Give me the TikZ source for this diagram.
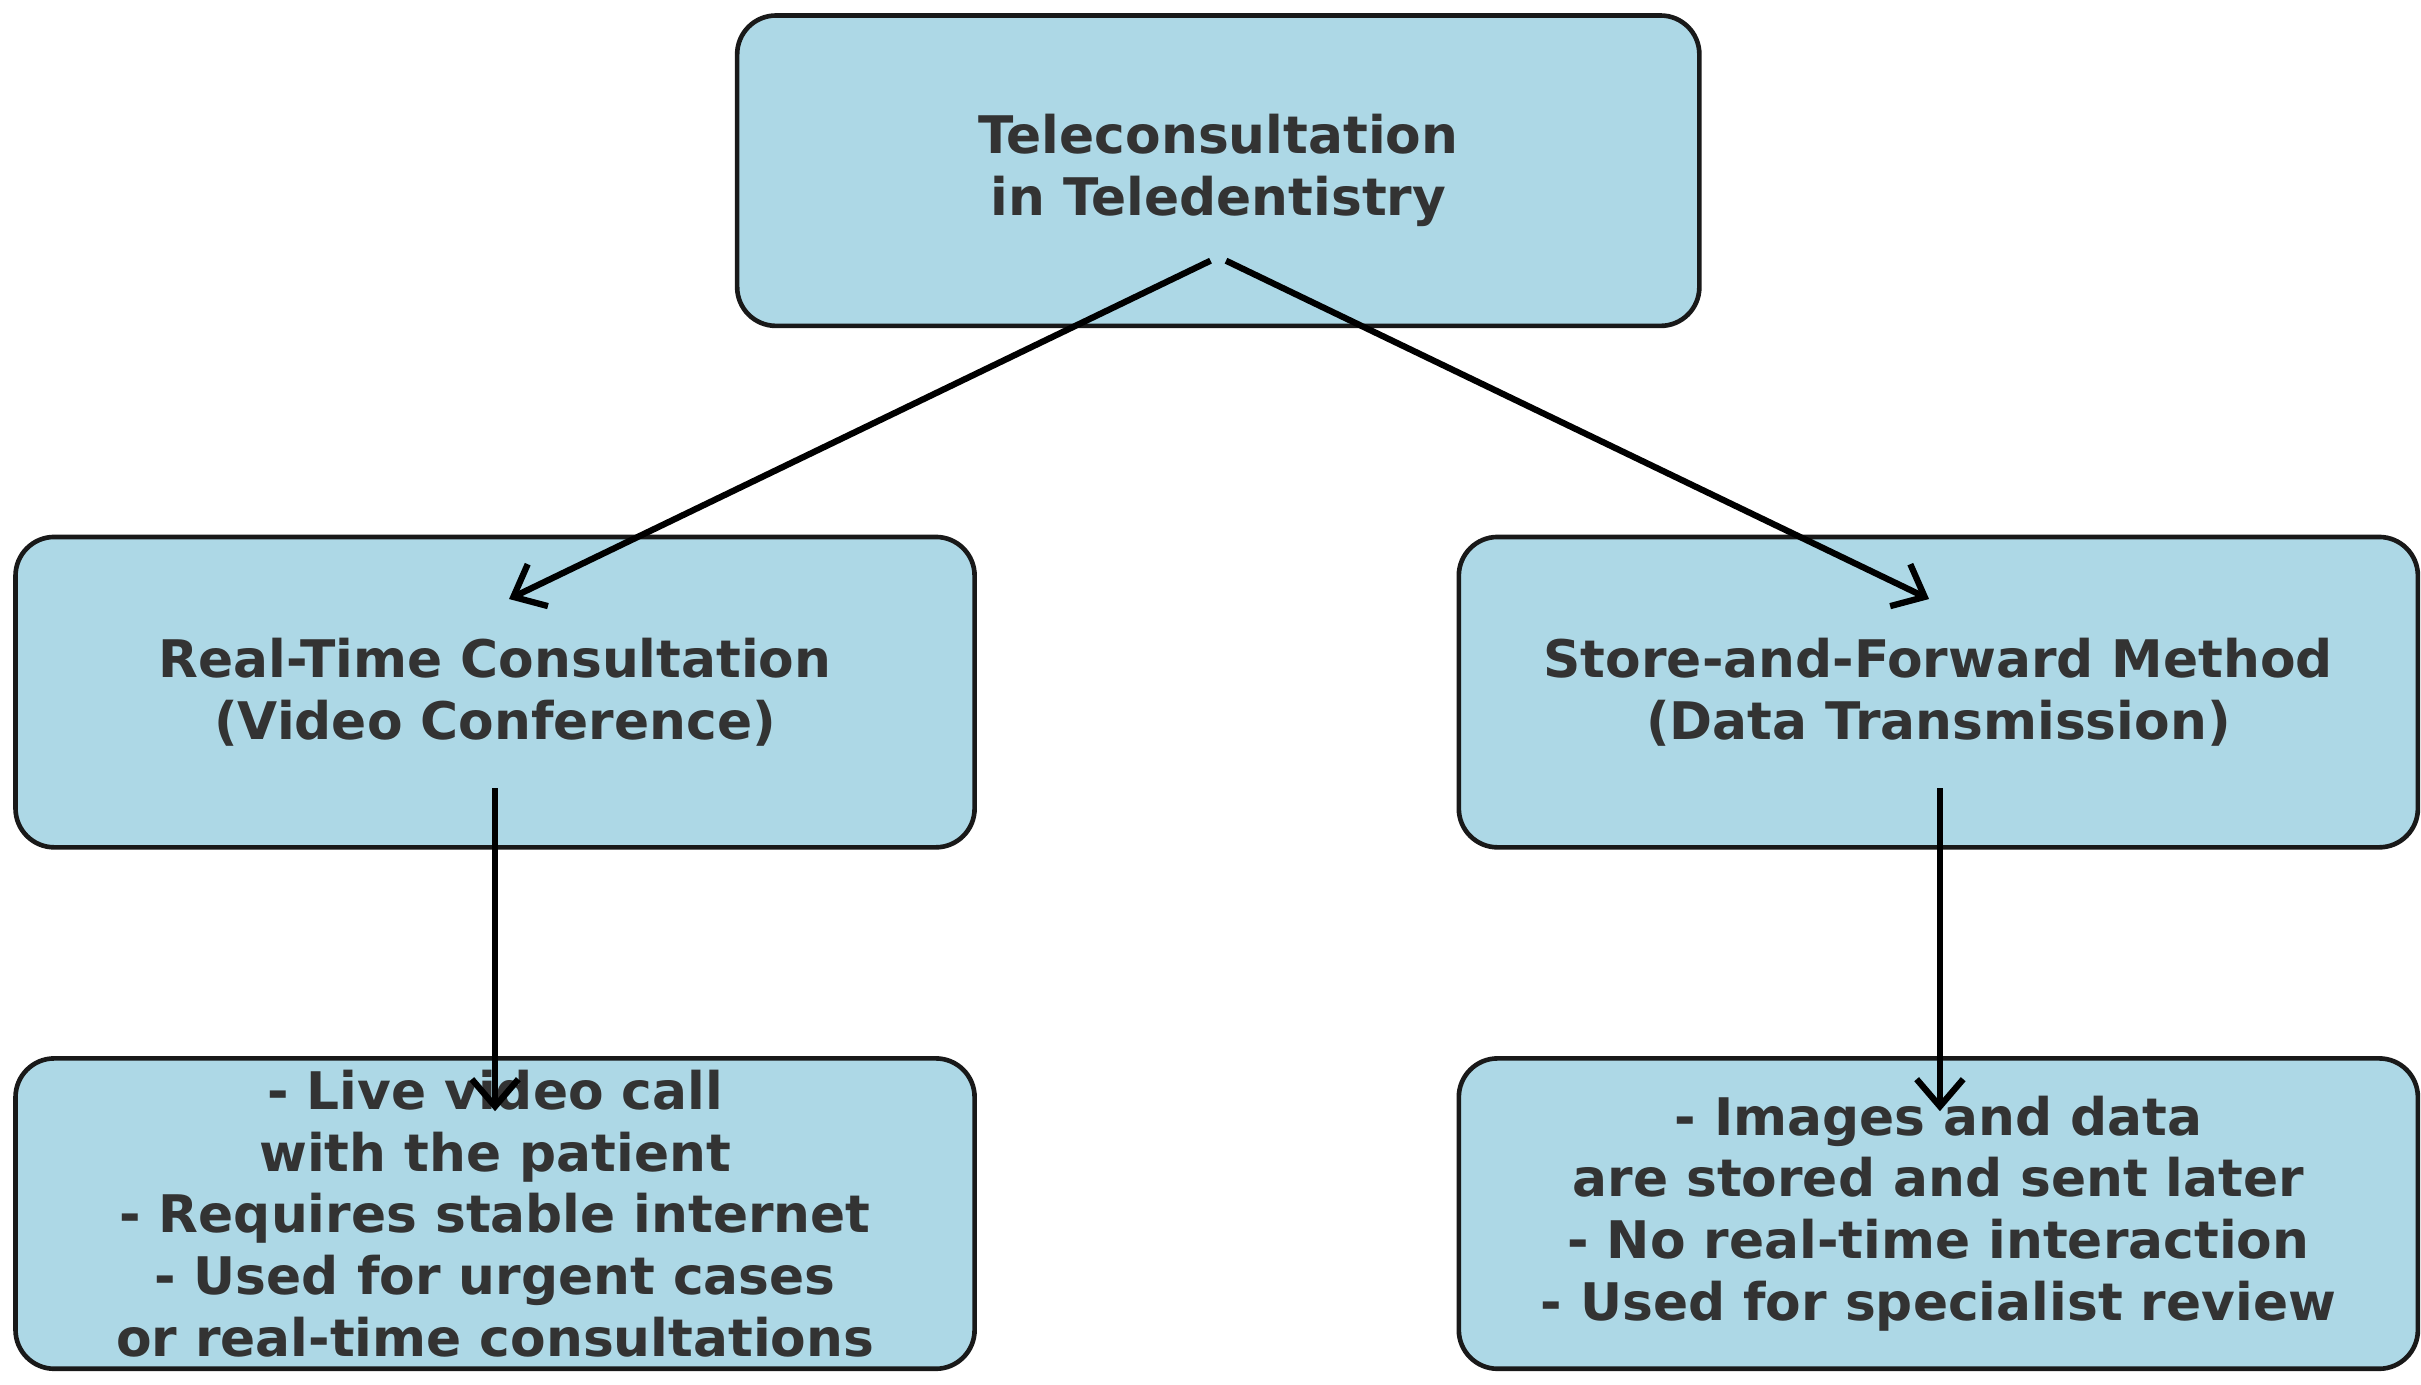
\documentclass[tikz,border=0pt]{standalone}
\usepackage{fontspec}
\setmainfont{DejaVu Sans}
\usetikzlibrary{arrows.meta}
\definecolor{boxfill}{HTML}{ADD8E6}
\definecolor{boxtext}{HTML}{333333}
\tikzset{
  box/.style={draw=black!90, line width=1.7pt, fill=boxfill, rounded corners=0.5cm,
    minimum width=12.36cm, minimum height=4cm, align=center, text=boxtext,
    font=\fontsize{19}{22.7}\selectfont\bfseries},
  arr/.style={-{Straight Barb[length=3.5mm,width=6mm]}, line width=2.3pt}
}
\begin{document}
\begin{tikzpicture}
			\useasboundingbox (0,0) rectangle (31.2,17.84);
			\node[box, minimum width=12.4cm] (T) at (15.7,15.64){Teleconsultation\\in Teledentistry};
			\node[box] (RT) at (6.38,8.92){Real-Time Consultation\\(Video Conference)};
			\node[box] (SF) at (24.98,8.92){Store-and-Forward Method\\(Data Transmission)};
			\node[box] (RTd) at (6.38,2.2){- Live video call\\with the patient\\- Requires stable internet\\- Used for urgent cases\\or real-time consultations};
			\node[box] (SFd) at (24.98,2.2){- Images and data\\are stored and sent later\\- No real-time interaction\\- Used for specialist review};
			% arrow ends
			\coordinate (t1) at (15.6,14.48);
			\coordinate (t2) at (15.8,14.48);
			\coordinate (rt1) at (6.56,10.12);
			\coordinate (sf1) at (24.86,10.12);
			\coordinate (rt2) at (6.38,7.68);
			\coordinate (rt3) at (6.38,3.52);
			\coordinate (sf2) at (25,7.68);
			\coordinate (sf3) at (25,3.52);
			\draw[arr] (t1) -- (rt1);
			\draw[arr] (t2) -- (sf1);
			\draw[arr] (rt2) -- (rt3);
			\draw[arr] (sf2) -- (sf3);
		\end{tikzpicture}
\end{document}
